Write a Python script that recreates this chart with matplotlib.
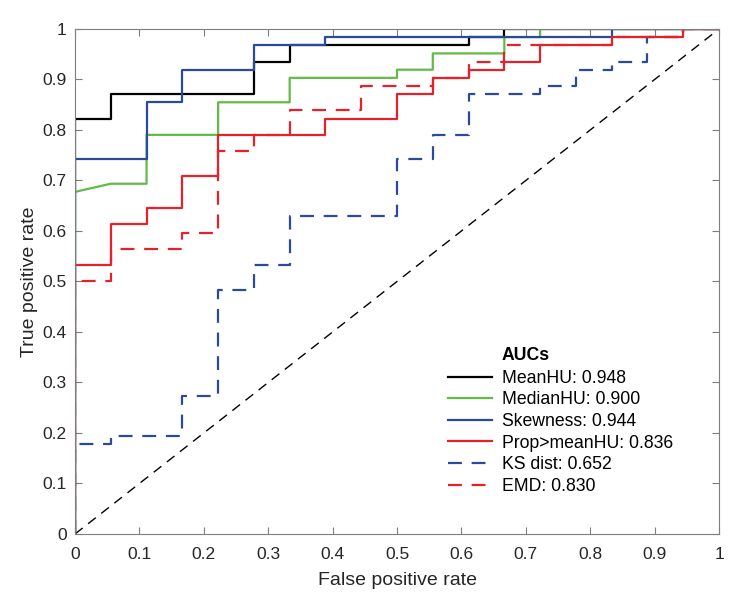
#=== Bibliotecas ===
import numpy as np
import matplotlib
matplotlib.use("Agg")
import matplotlib.pyplot as plt
from matplotlib.ticker import FormatStrFormatter

#=== Dados: pontos da curva ROC em contagens (18 negativos, 62 positivos) ===
N_NEG = 18
N_POS = 62

mean_fp = [0, 0, 1, 1, 5, 5, 6, 6, 11, 11, 12, 12, 18]
mean_tp = [0, 51, 51, 54, 54, 58, 58, 60, 60, 61, 61, 62, 62]

median_fp = [0, 0, 1, 2, 2, 4, 4, 6, 6, 9, 9, 10, 10, 12, 12, 13, 13, 18]
median_tp = [0, 42, 43, 43, 49, 49, 53, 53, 56, 56, 57, 57, 59, 59, 61, 61, 62, 62]

skew_fp = [0, 0, 2, 2, 3, 3, 5, 5, 7, 7, 15, 15, 18]
skew_tp = [0, 46, 46, 53, 53, 57, 57, 60, 60, 61, 61, 62, 62]

prop_fp = [0, 0, 1, 1, 2, 2, 3, 3, 4, 4, 7, 7, 9, 9, 10, 10, 11, 11, 12, 12, 13, 13, 15, 15, 17, 17, 18]
prop_tp = [0, 33, 33, 38, 38, 40, 40, 44, 44, 49, 49, 51, 51, 54, 54, 56, 56, 57, 57, 58, 58, 60, 60, 61, 61, 62, 62]

ks_fp = [0, 0, 1, 1, 3, 3, 4, 4, 5, 5, 6, 6, 9, 9, 10, 10, 11, 11, 13, 13, 14, 14, 15, 15, 16, 16, 17, 17, 18]
ks_tp = [0, 11, 11, 12, 12, 17, 17, 30, 30, 33, 33, 39, 39, 46, 46, 49, 49, 54, 54, 55, 55, 57, 57, 58, 58, 61, 61, 62, 62]

emd_fp = [0, 0, 1, 1, 3, 3, 4, 4, 5, 5, 6, 6, 8, 8, 10, 10, 11, 11, 12, 12, 15, 15, 17, 17, 18]
emd_tp = [0, 31, 31, 35, 35, 37, 37, 47, 47, 49, 49, 52, 52, 55, 55, 56, 56, 58, 58, 60, 60, 61, 61, 62, 62]

nomes = ["MeanHU: 0.948", "MedianHU: 0.900", "Skewness: 0.944",
         "Prop>meanHU: 0.836", "KS dist: 0.652", "EMD: 0.830"]

#=== Estilos ===
verde = "#62bb46"
azul = "#2b4a9b"
vermelho = "#e3222b"
cinza = "#7f7f7f"

plt.rcParams['font.family'] = ['Liberation Sans', 'DejaVu Sans']
plt.rcParams['lines.scale_dashes'] = False

fig = plt.figure(figsize=(7.5, 6.1), dpi=100)
ax = fig.add_axes([0.1, 0.1246, 0.8587, 0.8279])

# diagonal de referencia
ax.plot([0, 1], [0, 1], color="k", lw=1.0, dashes=(7, 5))

curvas = [
    (mean_fp, mean_tp, "k", "-"),
    (median_fp, median_tp, verde, "-"),
    (skew_fp, skew_tp, azul, "-"),
    (prop_fp, prop_tp, vermelho, "-"),
    (ks_fp, ks_tp, azul, "--"),
    (emd_fp, emd_tp, vermelho, "--"),
]

for (fp, tp, cor, estilo), nome in zip(curvas, nomes):
    x = np.array(fp) / N_NEG
    y = np.array(tp) / N_POS
    if estilo == "--":
        ax.plot(x, y, color=cor, lw=1.6, dashes=(10, 7), label=nome)
    else:
        ax.plot(x, y, color=cor, lw=1.6, label=nome)

#=== Eixos ===
ax.set_xlim(0, 1)
ax.set_ylim(0, 1)
ax.set_xticks(np.arange(0, 1.01, 0.1))
ax.set_yticks(np.arange(0, 1.01, 0.1))
ax.xaxis.set_major_formatter(FormatStrFormatter('%g'))
ax.yaxis.set_major_formatter(FormatStrFormatter('%g'))
ax.tick_params(direction="in", top=True, right=True, length=5, width=0.8,
               color=cinza, labelcolor="#262626", labelsize=12.5)
ax.tick_params(axis="x", pad=9.5)
ax.tick_params(axis="y", pad=6)
for s in ax.spines.values():
    s.set_color(cinza)
    s.set_linewidth(0.8)

ax.set_xlabel("False positive rate", fontsize=14, color="#262626", labelpad=7)
ax.set_ylabel("True positive rate", fontsize=14, color="#262626", labelpad=3)

#=== Legenda ===
ax.legend(loc="upper left", bbox_to_anchor=(0.579, 0.325), frameon=False,
          fontsize=12.7, handlelength=2.5, handletextpad=0.55,
          labelspacing=0.26, borderpad=0, borderaxespad=0)
ax.text(0.6626, 0.354, "AUCs", transform=ax.transAxes, fontsize=12.7,
        fontweight="bold", va="center", ha="left")

fig.savefig("out.png", dpi=100)
